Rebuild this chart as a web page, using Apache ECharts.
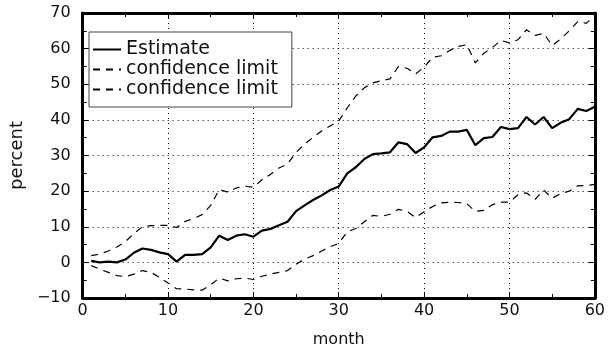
<!DOCTYPE html>
<html>
<head>
<meta charset="utf-8">
<script src="https://cdn.jsdelivr.net/npm/echarts@6/dist/echarts.min.js"></script>
<style>
html,body{margin:0;padding:0;background:#fff;}
#chart{width:608px;height:353px;}
</style>
</head>
<body>
<div id="chart"></div>
<script>
const months = [1,2,3,4,5,6,7,8,9,10,11,12,13,14,15,16,17,18,19,20,21,22,23,24,25,26,27,28,29,30,31,32,33,34,35,36,37,38,39,40,41,42,43,44,45,46,47,48,49,50,51,52,53,54,55,56,57,58,59,60];
const estimate = [0.4,0.0,0.2,0.0,0.8,2.7,3.9,3.5,2.8,2.3,0.2,2.1,2.1,2.3,4.2,7.5,6.3,7.5,7.9,7.2,8.9,9.4,10.4,11.4,14.4,16.0,17.5,18.8,20.3,21.3,25.0,26.7,29.0,30.4,30.6,30.9,33.7,33.2,30.7,32.3,35.1,35.5,36.7,36.7,37.2,32.9,34.9,35.2,38.0,37.4,37.7,40.8,38.7,40.8,37.7,39.2,40.2,43.1,42.5,43.7];
const upper = [1.9,2.3,3.2,4.3,5.8,8.1,10.0,10.3,10.4,10.4,9.8,11.5,12.3,13.4,16.0,20.5,19.7,20.9,21.4,21.1,23.2,24.7,26.5,27.6,30.9,33.2,35.1,36.9,38.3,39.7,43.4,46.7,49.0,50.4,51.0,51.5,55.0,54.5,52.9,54.8,57.6,58.0,59.5,60.6,61.1,56.0,58.7,60.3,62.3,61.6,62.5,65.3,63.7,64.3,60.9,62.7,65.0,67.6,67.1,69.3];
const lower = [-0.9,-1.9,-2.8,-3.7,-4.0,-3.3,-2.3,-2.8,-4.2,-5.8,-7.4,-7.5,-7.7,-7.8,-6.3,-4.4,-5.2,-4.6,-4.4,-4.8,-3.9,-3.3,-2.8,-2.3,-0.5,0.9,1.9,3.2,4.4,5.3,8.6,9.5,11.4,13.2,12.9,13.5,14.9,14.3,12.6,14.2,15.7,16.7,16.9,16.8,16.5,14.3,14.6,16.2,16.9,16.9,19.0,19.5,17.7,20.3,18.0,19.3,20.0,21.5,21.6,21.9];
const seriesLabels = {Estimate: 'Estimate', upper: 'confidence limit', lower: 'confidence limit'};
const xTitle = 'month';
const yTitle = 'percent';

const FONT = 'DejaVu Sans';
const pair = arr => months.map((m, i) => [m, arr[i]]);

const chart = echarts.init(document.getElementById('chart'), null, {renderer: 'canvas'});
const axisLine = {show: true, onZero: false, lineStyle: {color: '#000', width: 3}};
const tick = {show: true, inside: true, length: 6, lineStyle: {color: '#000', width: 1}};
const minor = {show: true, splitNumber: 2, length: 4, lineStyle: {color: '#000', width: 1}};
const split = {show: true, lineStyle: {color: '#000', width: 1, type: [1, 4]}};

chart.setOption({
  animation: false,
  backgroundColor: '#fff',
  grid: {left: 80, right: 12, top: 13, bottom: 53, containLabel: false},
  legend: {
    left: 89, top: 32,
    orient: 'vertical',
    data: ['Estimate', 'upper', 'lower'],
    formatter: n => seriesLabels[n],
    itemWidth: 28, itemHeight: 14, itemGap: 1,
    padding: [8, 14, 8, 3],
    backgroundColor: '#fff',
    borderColor: '#444', borderWidth: 1,
    itemStyle: {opacity: 0},
    textStyle: {fontFamily: FONT, fontSize: 19, lineHeight: 19, color: '#111'}
  },
  xAxis: [{
    type: 'value', min: 0, max: 60, interval: 10, position: 'bottom',
    name: xTitle, nameLocation: 'middle', nameGap: 34,
    nameTextStyle: {fontFamily: FONT, fontSize: 16, color: '#111'},
    axisLine, axisTick: tick, minorTick: minor, splitLine: split,
    axisLabel: {fontFamily: FONT, fontSize: 16, color: '#111', margin: 5}
  }, {
    type: 'value', min: 0, max: 60, interval: 10, position: 'top',
    axisLine, axisTick: tick, minorTick: minor, splitLine: {show: false},
    axisLabel: {show: false}
  }],
  yAxis: [{
    type: 'value', min: -10, max: 70, interval: 10, position: 'left',
    name: yTitle, nameLocation: 'middle', nameGap: 48, nameRotate: 90,
    nameTextStyle: {fontFamily: FONT, fontSize: 18, color: '#111'},
    axisLine, axisTick: tick, minorTick: minor, splitLine: split,
    axisLabel: {fontFamily: FONT, fontSize: 16, color: '#111', margin: 12,
      formatter: v => v < 0 ? '\u2212' + Math.abs(v) : String(v)}
  }, {
    type: 'value', min: -10, max: 70, interval: 10, position: 'right',
    axisLine, axisTick: tick, minorTick: minor, splitLine: {show: false},
    axisLabel: {show: false}
  }],
  series: [{
    name: 'Estimate', type: 'line', data: pair(estimate),
    symbol: 'none', lineStyle: {color: '#000', width: 2.2}, itemStyle: {color: '#000'}
  }, {
    name: 'upper', type: 'line', data: pair(upper),
    symbol: 'none', lineStyle: {color: '#000', width: 1.2, type: [7, 6]}, itemStyle: {color: '#000'}
  }, {
    name: 'lower', type: 'line', data: pair(lower),
    symbol: 'none', lineStyle: {color: '#000', width: 1.2, type: [7, 6]}, itemStyle: {color: '#000'}
  }]
});
</script>
</body>
</html>
